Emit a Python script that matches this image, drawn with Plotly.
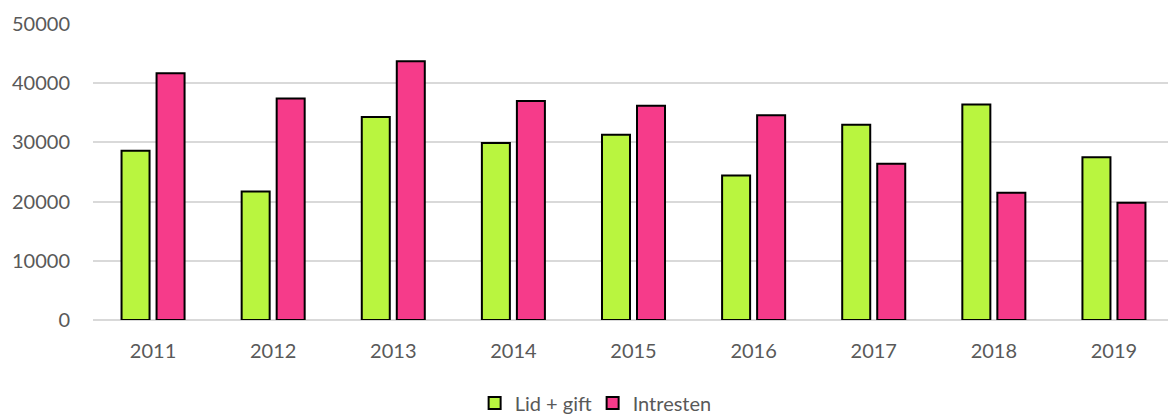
import plotly.graph_objects as go

years = ["2011", "2012", "2013", "2014", "2015", "2016", "2017", "2018", "2019"]
lid_gift = [28600, 21700, 34300, 29900, 31300, 24400, 33000, 36400, 27500]
intresten = [41700, 37400, 43700, 37000, 36200, 34600, 26400, 21500, 19800]
y_ticks = [0, 10000, 20000, 30000, 40000, 50000]

FONT = "Lato"
GRAY = "#595959"

fig = go.Figure()
fig.add_trace(go.Bar(
    x=years, y=lid_gift, name="Lid + gift",
    marker=dict(color="#B9F53F", line=dict(color="#000000", width=2)),
))
fig.add_trace(go.Bar(
    x=years, y=intresten, name="Intresten",
    marker=dict(color="#F63B8A", line=dict(color="#000000", width=2)),
))

fig.update_layout(
    width=1168, height=416,
    margin=dict(l=93, r=0, t=24, b=96, autoexpand=False),
    paper_bgcolor="white", plot_bgcolor="white",
    barmode="group", bargap=0.417, bargroupgap=0.2,
    font=dict(family=FONT, size=20, color=GRAY),
    showlegend=True,
    legend=dict(
        orientation="h", x=0.355, xanchor="left", y=-0.28, yanchor="middle",
        font=dict(family=FONT, size=20, color=GRAY),
        itemwidth=30, traceorder="normal",
        entrywidth=73, entrywidthmode="pixels",
    ),
    xaxis=dict(
        range=[-0.5, 8.45],
        showgrid=False, showline=False, zeroline=False, automargin=False,
        tickfont=dict(family=FONT, size=20, color=GRAY),
        ticklabelstandoff=17,
    ),
    yaxis=dict(
        range=[0, 50000], tickvals=y_ticks, automargin=False,
        ticktext=[str(v) for v in y_ticks],
        showgrid=True, gridcolor="#d9d9d9", gridwidth=1.5,
        zeroline=True, zerolinecolor="#d9d9d9", zerolinewidth=1.5,
        showline=False,
        tickfont=dict(family=FONT, size=20, color=GRAY),
        ticklabelstandoff=22,
    ),
)

fig.write_html(
    "out.html",
    config={"displayModeBar": False},
    post_script="document.body.style.margin='0';document.body.style.overflow='hidden';",
)
